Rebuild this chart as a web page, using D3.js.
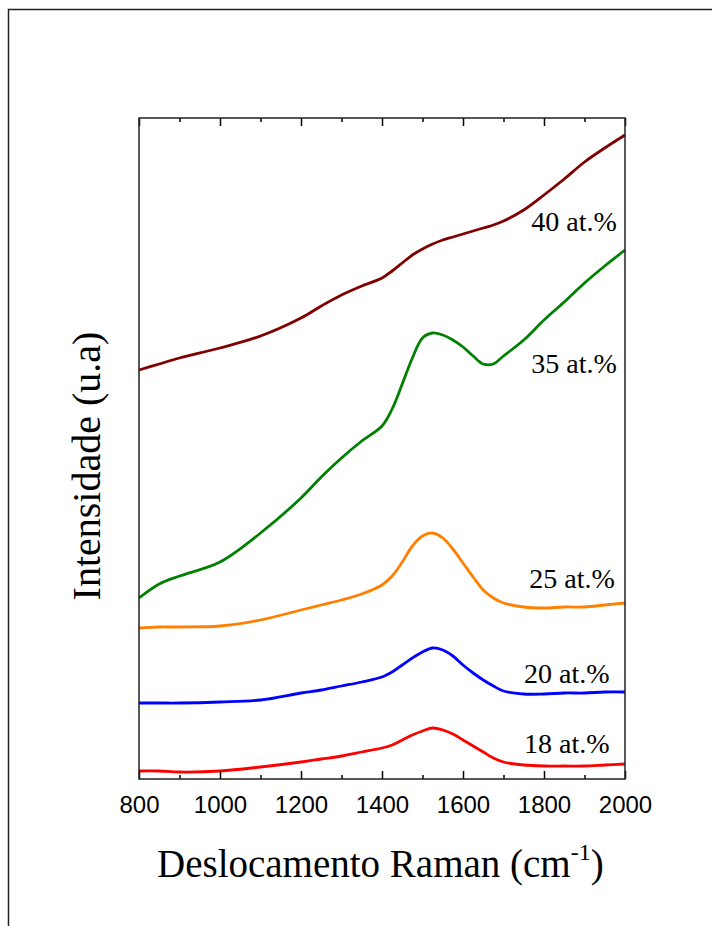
<!DOCTYPE html>
<html>
<head>
  <meta charset="utf-8">
  <title>Raman</title>
  <script src="https://cdnjs.cloudflare.com/ajax/libs/d3/7.8.5/d3.min.js"></script>
</head>
<style>
  body { margin: 0; background: #fff; }
  svg { display: block; }
  .tick text { font-family: "Liberation Sans", Arial, sans-serif; font-size: 24px; fill: #000; }
  .tick line { stroke: #000; stroke-width: 1.5px; }
  .domain { display: none; }
  .serif { font-family: "Liberation Serif", "Times New Roman", serif; fill: #000; }
</style>
<body>
<svg id="svg" width="712" height="926"></svg>
<script type="text/javascript">
  // raman shift grid (cm-1)
  const ramanShift = [800, 850, 900, 1000, 1100, 1200, 1250, 1300, 1350, 1400, 1425, 1450, 1475, 1500,
    1525, 1550, 1575, 1600, 1625, 1650, 1675, 1700, 1750, 1800, 1850, 1900, 1950, 2000];

  // intensity (a.u., offset stacked as in the figure)
  const at40 = [409, 415, 421, 431, 443, 461, 473, 484, 493, 501, 508, 516, 524, 530,
    535, 539, 542, 545, 548, 551, 554, 558, 569, 584, 600, 617, 631, 644];
  const at35 = [181, 195, 203, 217, 246, 281, 302, 321, 338, 353, 370, 395, 421, 441,
    446, 444, 439, 432, 423, 415, 415, 423, 439, 459, 477, 496, 513, 529];
  const at25 = [151, 152, 152, 153, 159, 169, 174, 179, 185, 194, 203, 217, 233, 243,
    246, 241, 230, 216, 202, 189, 181, 176, 172, 171, 172, 172, 174, 176];
  const at20 = [76, 76, 76, 77, 79, 86, 89, 93, 97, 102, 107, 114, 121, 127,
    131, 129, 123, 114, 106, 99, 93, 88, 85, 85, 86, 86, 87, 87];
  const at18 = [8, 8, 7, 8, 12, 17, 20, 23, 27, 31, 34, 39, 44, 48,
    51, 49, 45, 39, 33, 27, 21, 17, 14, 13, 13, 13, 14, 15];

  const seriesNames = ['40 at.%', '35 at.%', '25 at.%', '20 at.%', '18 at.%'];
  const seriesValues = [at40, at35, at25, at20, at18];
  const seriesColors = ['#800000', '#008000', '#ff8000', '#0000ff', '#ff0000'];
  // where each label sits: [raman shift of right end, intensity of baseline]
  const labelAnchor = [[1980, 548], [1980, 406], [1975, 191], [1962, 96], [1962, 26]];

  const majorTicks = [800, 1000, 1200, 1400, 1600, 1800, 2000];
  const minorTicks = [900, 1100, 1300, 1500, 1700, 1900];

  const plotL = 139, plotR = 625, plotT = 118, plotB = 779;
  const svg = d3.select('svg');

  // outer frame
  svg.append('rect')
    .attr('x', 8.5).attr('y', 9.5).attr('width', 760).attr('height', 960)
    .attr('fill', 'none').attr('stroke', '#222').attr('stroke-width', 1.5);

  const xScale = d3.scaleLinear().domain([800, 2000]).range([plotL, plotR]);
  const yScale = d3.scaleLinear().domain([0, plotB - plotT]).range([plotB, plotT]);

  const line = d3.line()
    .x(d => xScale(d[0]))
    .y(d => yScale(d[1]))
    .curve(d3.curveCatmullRom.alpha(0.5));

  svg.selectAll('path.spec')
    .data(seriesValues)
    .enter()
    .append('path')
    .attr('class', 'spec')
    .attr('fill', 'none')
    .attr('stroke', (d, i) => seriesColors[i])
    .attr('stroke-width', 2.8)
    .attr('stroke-linejoin', 'round')
    .attr('d', d => line(d.map((v, i) => [ramanShift[i], v])));

  // axes, ticks pointing in
  svg.append('g').attr('transform', `translate(0,${plotB})`)
    .call(d3.axisBottom(xScale).tickValues(majorTicks).tickSize(-8).tickPadding(17).tickFormat(d3.format('d')));
  svg.append('g').attr('transform', `translate(0,${plotB})`)
    .call(d3.axisBottom(xScale).tickValues(minorTicks).tickSize(-4).tickFormat(''));
  svg.append('g').attr('transform', `translate(0,${plotT})`)
    .call(d3.axisTop(xScale).tickValues(majorTicks).tickSize(-8).tickFormat(''));
  svg.append('g').attr('transform', `translate(0,${plotT})`)
    .call(d3.axisTop(xScale).tickValues(minorTicks).tickSize(-4).tickFormat(''));

  svg.append('rect')
    .attr('x', plotL).attr('y', plotT).attr('width', plotR - plotL).attr('height', plotB - plotT)
    .attr('fill', 'none').attr('stroke', '#222').attr('stroke-width', 1.5);

  svg.selectAll('text.lab')
    .data(seriesNames)
    .enter()
    .append('text')
    .attr('class', 'lab serif')
    .attr('text-anchor', 'end')
    .attr('font-size', 28)
    .attr('x', (d, i) => xScale(labelAnchor[i][0]))
    .attr('y', (d, i) => yScale(labelAnchor[i][1]))
    .text(d => d);

  // axis titles
  const xt = svg.append('text').attr('class', 'serif').attr('font-size', 39)
    .attr('x', 157).attr('y', 877);
  xt.append('tspan').text('Deslocamento Raman (cm');
  xt.append('tspan').attr('font-size', 24).attr('dy', -17).text('-1');
  xt.append('tspan').attr('dy', 17).text(')');

  svg.append('text').attr('class', 'serif').attr('font-size', 40)
    .attr('text-anchor', 'middle')
    .attr('transform', 'translate(100,466) rotate(-90)')
    .text('Intensidade (u.a)');
</script>
</body>
</html>
